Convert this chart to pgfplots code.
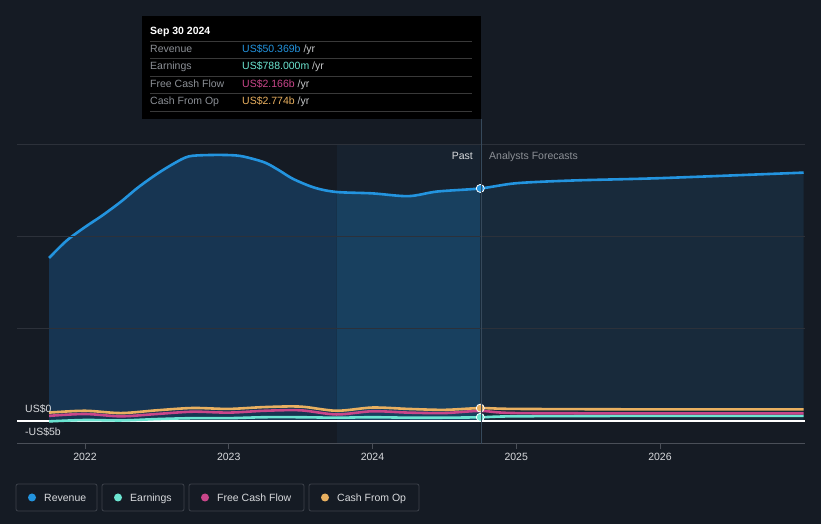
\documentclass[border=0pt]{standalone}
\usepackage{fontspec}
\setmainfont{Liberation Sans}
\usepackage{pgfplots}
\pgfplotsset{compat=1.18}
\definecolor{bgc}{HTML}{151B24}
\definecolor{gridc}{HTML}{2C313A}
\definecolor{axisc}{HTML}{4A4F58}
\definecolor{lblc}{HTML}{D8DADD}
\definecolor{dimc}{HTML}{8C9096}
\definecolor{histc}{HTML}{173552}
\definecolor{bandc}{HTML}{18405F}
\definecolor{forec}{HTML}{182A3B}
\definecolor{bandbg}{HTML}{17222F}
\definecolor{revc}{HTML}{2394DF}
\definecolor{earnc}{HTML}{6CE5D1}
\definecolor{fcfc}{HTML}{C9468A}
\definecolor{cfoc}{HTML}{E9B060}
\definecolor{boxc}{HTML}{3D424B}

\begin{document}
\begin{tikzpicture}[font=\fontsize{10.5}{12}\selectfont]
\begin{scope}[x=1pt,y=1pt]
\fill[bgc] (0,0) rectangle (821,524);
\end{scope}
\begin{axis}[
  at={(17pt,80pt)}, anchor=south west, scale only axis,
  width=788pt, height=300pt,
  xmin=2021.527, xmax=2027.009, ymin=-5, ymax=60,
  axis x line*=bottom, axis y line*=left,
  y axis line style={draw=none}, x axis line style={draw=axisc, line width=1pt},
  ytick={20,40,60}, yticklabels={}, ytick style={draw=none},
  ymajorgrids, grid style={gridc, line width=0.9pt},
  xtick={2022,2023,2024,2025,2026}, xticklabels={2022,2023,2024,2025,2026},
  xtick style={draw=axisc, line width=0.8pt}, tick align=outside, major tick length=5pt,
  xticklabel style={text=lblc, font=\fontsize{10.5}{12}\selectfont, yshift=-1pt},
  axis on top,
]
\fill[bandbg] (axis cs:2023.75,-5) rectangle (axis cs:2024.75,60);
% revenue area, in three parts
\addplot[fill=histc, draw=none, smooth] coordinates {
(2021.75,35.3) (2021.87,39.0) (2022,42) (2022.12,44.5) (2022.25,47.5) (2022.37,50.6)
(2022.5,53.5) (2022.62,55.8) (2022.72,57.3) (2022.85,57.6) (2023,57.6) (2023.1,57.3)
(2023.25,56) (2023.35,54.3) (2023.45,52.4) (2023.6,50.5) (2023.75,49.6)} \closedcycle;
\addplot[fill=bandc, draw=none, smooth] coordinates {
(2023.75,49.6) (2024,49.3) (2024.25,48.7) (2024.45,49.7) (2024.75,50.37)} \closedcycle;
\addplot[fill=forec, draw=none, smooth] coordinates {
(2024.75,50.37) (2025,51.5) (2025.4,52.1) (2026,52.6) (2027,53.8)} \closedcycle;
\draw[white, line width=1.3pt] (axis cs:2021.527,0) -- (axis cs:2027.009,0);
% earnings
\addplot[earnc, line width=2.6pt, smooth] coordinates {
(2021.75,-0.1) (2022,0.2) (2022.25,0.1) (2022.5,0.4) (2022.75,0.6) (2023,0.6) (2023.25,0.8)
(2023.5,0.8) (2023.75,0.7) (2024,0.8) (2024.25,0.7) (2024.5,0.7) (2024.75,0.788)
(2025,1.0) (2026,1.1) (2027,1.1)};
% free cash flow
\addplot[fcfc, line width=2.6pt, smooth] coordinates {
(2021.75,1.1) (2022,1.5) (2022.25,1.0) (2022.5,1.5) (2022.75,2.0) (2023,1.8) (2023.25,2.2)
(2023.5,2.3) (2023.75,1.4) (2024,2.1) (2024.25,1.8) (2024.5,1.7) (2024.75,2.166)
(2025,1.7) (2026,1.65) (2027,1.65)};
% cash from op
\addplot[cfoc, line width=2.6pt, smooth] coordinates {
(2021.75,1.8) (2022,2.2) (2022.25,1.7) (2022.5,2.3) (2022.75,2.8) (2023,2.6) (2023.25,3.0)
(2023.5,3.1) (2023.75,2.2) (2024,2.9) (2024.25,2.6) (2024.5,2.4) (2024.75,2.774)
(2025,2.6) (2026,2.5) (2027,2.5)};
% revenue line
\addplot[revc, line width=2.6pt, smooth] coordinates {
(2021.75,35.3) (2021.87,39.0) (2022,42) (2022.12,44.5) (2022.25,47.5) (2022.37,50.6)
(2022.5,53.5) (2022.62,55.8) (2022.72,57.3) (2022.85,57.6) (2023,57.6) (2023.1,57.3)
(2023.25,56) (2023.35,54.3) (2023.45,52.4) (2023.6,50.5) (2023.75,49.6) (2024,49.3)
(2024.25,48.7) (2024.45,49.7) (2024.75,50.37) (2025,51.5) (2025.4,52.1) (2026,52.6) (2027,53.8)};
% current-value markers
\addplot[only marks, mark=*, mark size=4pt, mark options={fill=earnc, draw=white, line width=0.8pt}] coordinates {(2024.75,0.788)};
\addplot[only marks, mark=*, mark size=4pt, mark options={fill=cfoc, draw=white, line width=0.8pt}] coordinates {(2024.75,2.774)};
\addplot[only marks, mark=*, mark size=4pt, mark options={fill=revc, draw=white, line width=0.8pt}] coordinates {(2024.75,50.37)};
% y labels
\node[anchor=base west, text=lblc, inner sep=0pt, xshift=8pt, yshift=9pt] at (axis cs:2021.527,60) {US\$60b};
\node[anchor=base west, text=lblc, inner sep=0pt, xshift=8pt, yshift=8pt] at (axis cs:2021.527,0) {US\$0};
\node[anchor=base west, text=lblc, inner sep=0pt, xshift=8pt, yshift=8pt] at (axis cs:2021.527,-5) {-US\$5b};
\end{axis}
\begin{scope}[x=1pt,y=1pt,every node/.style={inner sep=0pt}]
% past / forecast
\node[anchor=base east, text=lblc] at (473,364) {Past};
\node[anchor=base west, text=dimc] at (489,364) {Analysts Forecasts};
% hover line and tooltip
\draw[color=axisc!60!bandc, line width=0.8pt] (481,80) -- (481,405);
\fill[black] (142,405) rectangle (481,508);
\node[anchor=base west, text=white, font=\fontsize{10.5}{12}\selectfont\bfseries] at (150,489) {Sep 30 2024};
\foreach \yy in {482.7,465.7,447.7,430.7,412.3} \draw[color=gray!45!black, line width=0.8pt] (150,\yy) -- (472,\yy);
\node[anchor=base west, text=dimc] at (150,471) {Revenue};
\node[anchor=base west, text=dimc] at (150,454) {Earnings};
\node[anchor=base west, text=dimc] at (150,436) {Free Cash Flow};
\node[anchor=base west, text=dimc] at (150,419) {Cash From Op};
\node[anchor=base west] at (242,471) {\textcolor{revc}{US\$50.369b} \textcolor{lblc!80!gray}{/yr}};
\node[anchor=base west] at (242,454) {\textcolor{earnc}{US\$788.000m} \textcolor{lblc!80!gray}{/yr}};
\node[anchor=base west] at (242,436) {\textcolor{fcfc}{US\$2.166b} \textcolor{lblc!80!gray}{/yr}};
\node[anchor=base west] at (242,419) {\textcolor{cfoc}{US\$2.774b} \textcolor{lblc!80!gray}{/yr}};
% legend
\foreach \xa/\xb/\c/\t in {16/97/revc/Revenue, 102/184/earnc/Earnings, 189/304/fcfc/Free Cash Flow, 309/419/cfoc/Cash From Op} {
  \draw[boxc, line width=0.8pt, rounded corners=2pt] (\xa,13) rectangle (\xb,40);
  \fill[\c] (\xa+16,26.5) circle (4);
  \node[anchor=base west, text=lblc] at (\xa+28,22.8) {\t};
}
\end{scope}
\end{tikzpicture}
\end{document}
